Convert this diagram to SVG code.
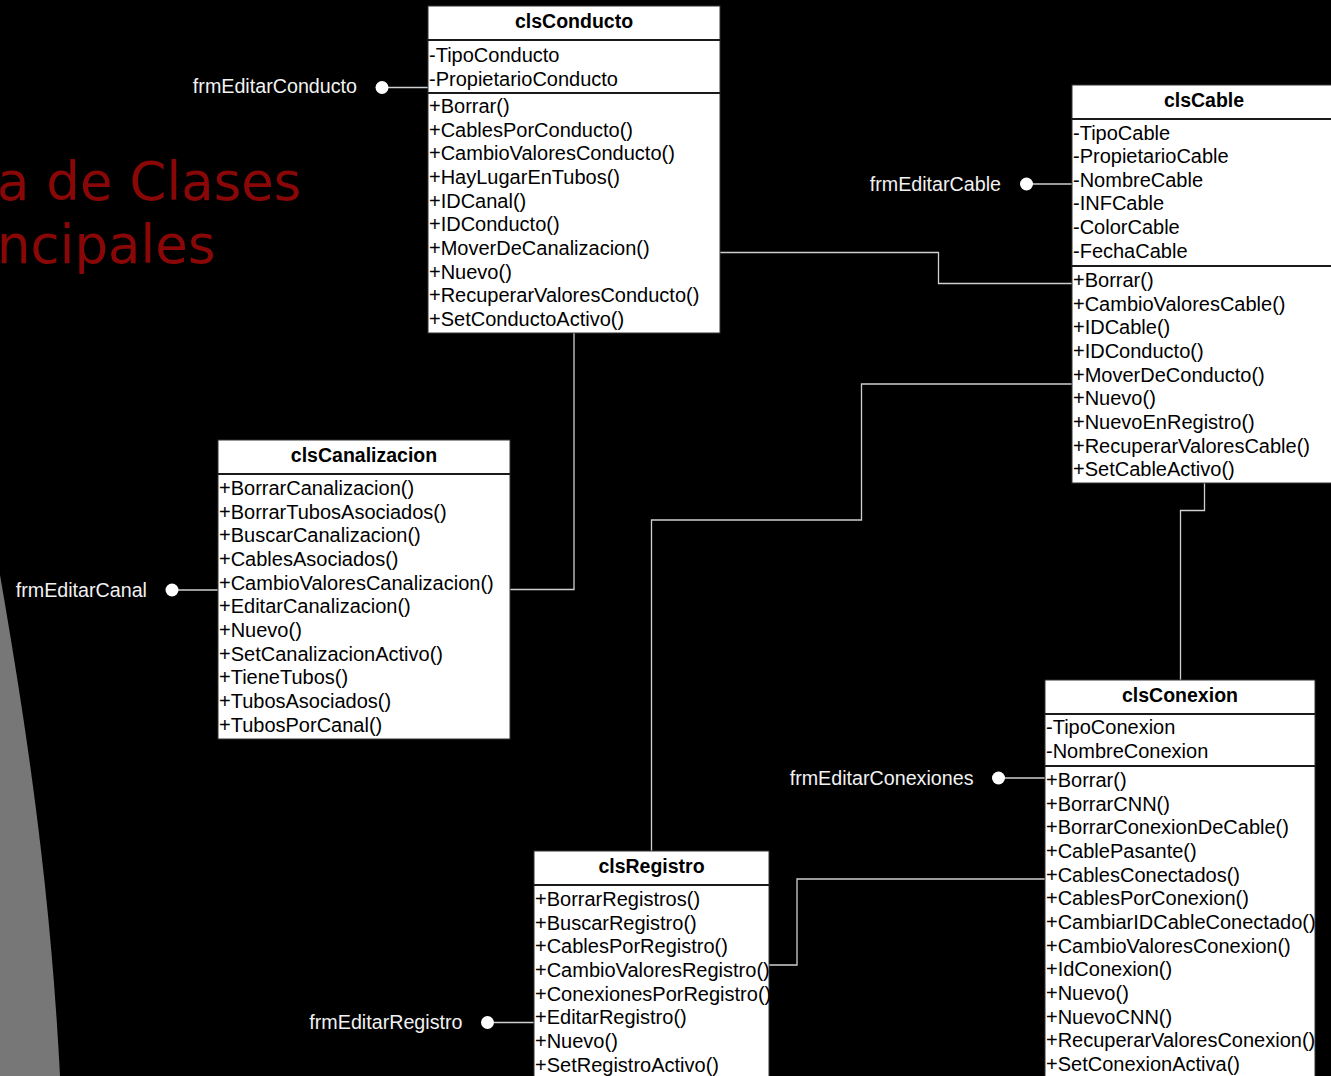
<svg xmlns="http://www.w3.org/2000/svg" width="1331" height="1076" viewBox="0 0 1331 1076">
  <style>
    .box { fill: #ffffff; stroke: #333333; stroke-width: 1; }
    .sep { stroke: #1a1a1a; stroke-width: 2; fill: none; }
    .hdr { font-family: "Liberation Sans", Arial, sans-serif; font-size: 19.5px; font-weight: bold; fill: #000; text-anchor: middle; }
    .row { font-family: "Liberation Sans", Arial, sans-serif; font-size: 20px; fill: #000; }
    .lbl { font-family: "Liberation Sans", Arial, sans-serif; font-size: 19.7px; fill: #f2f2f2; text-anchor: end; }
    .wire { stroke: #cfcfcf; stroke-width: 1.3; fill: none; }
    .dot { fill: #ffffff; }
    .title { font-family: "DejaVu Sans", Verdana, sans-serif; font-size: 53px; fill: #8a0707; }
  </style>

  <!-- slide background -->
  <rect x="0" y="0" width="1331" height="1076" fill="#000000"/>
  <path d="M0,575 C25,720 50,880 60,1076 L0,1076 Z" fill="#777777"/>

  <!-- slide title -->
  <text class="title" x="-3" y="200">a de Clases</text>
  <text class="title" x="-3" y="263">ncipales</text>

  <!-- connectors -->
  <g id="connectors">
    <path class="wire" d="M574,333 V589.5 H510"/>
    <path class="wire" d="M720,252.5 H938.5 V283.5 H1072"/>
    <path class="wire" d="M1072,384 H861.5 V520 H651.5 V851"/>
    <path class="wire" d="M1204.5,483 V510.5 H1180.5 V680"/>
    <path class="wire" d="M1045,879 H797 V965 H769"/>
    <path class="wire" d="M382,87.5 H428"/>
    <path class="wire" d="M1026.5,184 H1072"/>
    <path class="wire" d="M172,590 H218"/>
    <path class="wire" d="M998.5,778 H1045"/>
    <path class="wire" d="M487.5,1022.5 H534"/>
    <circle class="dot" cx="382" cy="87.5" r="6.5"/>
    <circle class="dot" cx="1026.5" cy="184" r="6.5"/>
    <circle class="dot" cx="172" cy="590" r="6.5"/>
    <circle class="dot" cx="998.5" cy="778" r="6.5"/>
    <circle class="dot" cx="487.5" cy="1022.5" r="6.5"/>
  </g>

  <!-- form labels -->
  <g id="frmEditarConducto"><text class="lbl" x="357" y="93">frmEditarConducto</text></g>
  <g id="frmEditarCable"><text class="lbl" x="1001" y="190.5">frmEditarCable</text></g>
  <g id="frmEditarCanal"><text class="lbl" x="147" y="596.5">frmEditarCanal</text></g>
  <g id="frmEditarConexiones"><text class="lbl" x="973.5" y="784.5">frmEditarConexiones</text></g>
  <g id="frmEditarRegistro"><text class="lbl" x="462.5" y="1029">frmEditarRegistro</text></g>

  <!-- clsConducto -->
  <g id="clsConducto">
    <rect class="box" x="428" y="6" width="292" height="327"/>
    <line class="sep" x1="428" y1="40" x2="720" y2="40"/>
    <line class="sep" x1="428" y1="93" x2="720" y2="93"/>
    <text class="hdr" x="574" y="28">clsConducto</text>
    <text class="row" x="429" y="62">-TipoConducto</text>
    <text class="row" x="429" y="85.5">-PropietarioConducto</text>
    <text class="row" x="429" y="113">+Borrar()</text>
    <text class="row" x="429" y="136.65">+CablesPorConducto()</text>
    <text class="row" x="429" y="160.3">+CambioValoresConducto()</text>
    <text class="row" x="429" y="183.95">+HayLugarEnTubos()</text>
    <text class="row" x="429" y="207.6">+IDCanal()</text>
    <text class="row" x="429" y="231.25">+IDConducto()</text>
    <text class="row" x="429" y="254.9">+MoverDeCanalizacion()</text>
    <text class="row" x="429" y="278.55">+Nuevo()</text>
    <text class="row" x="429" y="302.2">+RecuperarValoresConducto()</text>
    <text class="row" x="429" y="325.85">+SetConductoActivo()</text>
  </g>

  <!-- clsCable -->
  <g id="clsCable">
    <rect class="box" x="1072" y="85" width="264" height="398"/>
    <line class="sep" x1="1072" y1="119" x2="1336" y2="119"/>
    <line class="sep" x1="1072" y1="266" x2="1336" y2="266"/>
    <text class="hdr" x="1204" y="107">clsCable</text>
    <text class="row" x="1073" y="139.5">-TipoCable</text>
    <text class="row" x="1073" y="163.15">-PropietarioCable</text>
    <text class="row" x="1073" y="186.8">-NombreCable</text>
    <text class="row" x="1073" y="210.45">-INFCable</text>
    <text class="row" x="1073" y="234.1">-ColorCable</text>
    <text class="row" x="1073" y="257.75">-FechaCable</text>
    <text class="row" x="1073" y="287">+Borrar()</text>
    <text class="row" x="1073" y="310.65">+CambioValoresCable()</text>
    <text class="row" x="1073" y="334.3">+IDCable()</text>
    <text class="row" x="1073" y="357.95">+IDConducto()</text>
    <text class="row" x="1073" y="381.6">+MoverDeConducto()</text>
    <text class="row" x="1073" y="405.25">+Nuevo()</text>
    <text class="row" x="1073" y="428.9">+NuevoEnRegistro()</text>
    <text class="row" x="1073" y="452.55">+RecuperarValoresCable()</text>
    <text class="row" x="1073" y="476.2">+SetCableActivo()</text>
  </g>

  <!-- clsCanalizacion -->
  <g id="clsCanalizacion">
    <rect class="box" x="218" y="440" width="292" height="299"/>
    <line class="sep" x1="218" y1="474" x2="510" y2="474"/>
    <text class="hdr" x="364" y="462">clsCanalizacion</text>
    <text class="row" x="219" y="495">+BorrarCanalizacion()</text>
    <text class="row" x="219" y="518.65">+BorrarTubosAsociados()</text>
    <text class="row" x="219" y="542.3">+BuscarCanalizacion()</text>
    <text class="row" x="219" y="565.95">+CablesAsociados()</text>
    <text class="row" x="219" y="589.6">+CambioValoresCanalizacion()</text>
    <text class="row" x="219" y="613.25">+EditarCanalizacion()</text>
    <text class="row" x="219" y="636.9">+Nuevo()</text>
    <text class="row" x="219" y="660.55">+SetCanalizacionActivo()</text>
    <text class="row" x="219" y="684.2">+TieneTubos()</text>
    <text class="row" x="219" y="707.85">+TubosAsociados()</text>
    <text class="row" x="219" y="731.5">+TubosPorCanal()</text>
  </g>

  <!-- clsConexion -->
  <g id="clsConexion">
    <rect class="box" x="1045" y="680" width="270" height="400"/>
    <line class="sep" x1="1045" y1="714" x2="1315" y2="714"/>
    <line class="sep" x1="1045" y1="766" x2="1315" y2="766"/>
    <text class="hdr" x="1180" y="702">clsConexion</text>
    <text class="row" x="1046" y="734">-TipoConexion</text>
    <text class="row" x="1046" y="757.65">-NombreConexion</text>
    <text class="row" x="1046" y="787">+Borrar()</text>
    <text class="row" x="1046" y="810.65">+BorrarCNN()</text>
    <text class="row" x="1046" y="834.3">+BorrarConexionDeCable()</text>
    <text class="row" x="1046" y="857.95">+CablePasante()</text>
    <text class="row" x="1046" y="881.6">+CablesConectados()</text>
    <text class="row" x="1046" y="905.25">+CablesPorConexion()</text>
    <text class="row" x="1046" y="928.9">+CambiarIDCableConectado()</text>
    <text class="row" x="1046" y="952.55">+CambioValoresConexion()</text>
    <text class="row" x="1046" y="976.2">+IdConexion()</text>
    <text class="row" x="1046" y="999.85">+Nuevo()</text>
    <text class="row" x="1046" y="1023.5">+NuevoCNN()</text>
    <text class="row" x="1046" y="1047.15">+RecuperarValoresConexion()</text>
    <text class="row" x="1046" y="1070.8">+SetConexionActiva()</text>
  </g>

  <!-- clsRegistro -->
  <g id="clsRegistro">
    <rect class="box" x="534" y="851" width="235" height="230"/>
    <line class="sep" x1="534" y1="885" x2="769" y2="885"/>
    <text class="hdr" x="651.5" y="873">clsRegistro</text>
    <text class="row" x="535" y="906">+BorrarRegistros()</text>
    <text class="row" x="535" y="929.65">+BuscarRegistro()</text>
    <text class="row" x="535" y="953.3">+CablesPorRegistro()</text>
    <text class="row" x="535" y="976.95">+CambioValoresRegistro()</text>
    <text class="row" x="535" y="1000.6">+ConexionesPorRegistro()</text>
    <text class="row" x="535" y="1024.25">+EditarRegistro()</text>
    <text class="row" x="535" y="1047.9">+Nuevo()</text>
    <text class="row" x="535" y="1071.55">+SetRegistroActivo()</text>
  </g>
</svg>
